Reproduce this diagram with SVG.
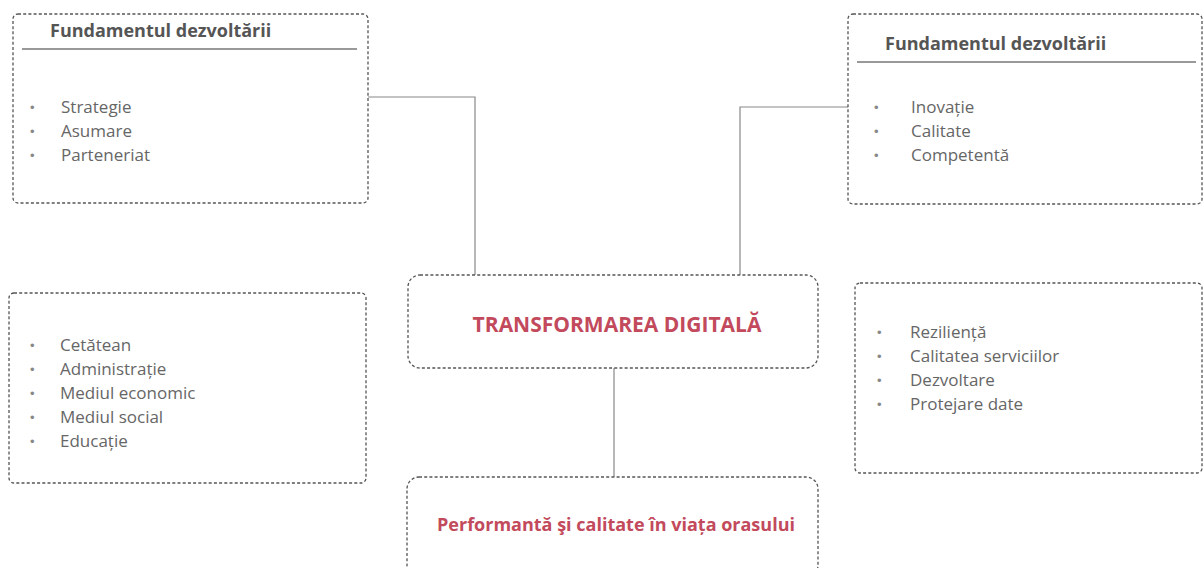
<svg xmlns="http://www.w3.org/2000/svg" width="1204" height="568" viewBox="0 0 1204 568">
<style>
.box{fill:#fff;stroke:#555;stroke-width:1.3;stroke-dasharray:3 2.2}
.t{font-family:"Open Sans","Liberation Sans",sans-serif;font-size:17px;fill:#666}
.h{font-family:"Open Sans","Liberation Sans",sans-serif;font-size:18px;font-weight:bold;fill:#555}
.b{font-family:"Liberation Sans",sans-serif;font-size:13px;fill:#888}
.red{font-family:"Open Sans","Liberation Sans",sans-serif;font-weight:bold;fill:#c24a5c;text-anchor:middle}
.sep{stroke:#777;stroke-width:1.3}
.conn{fill:none;stroke:#888;stroke-width:1.2}
</style>
<rect width="1204" height="568" fill="#fff"/>
<g id="connectors">
<path class="conn" d="M368 97 H475 V275"/>
<path class="conn" d="M848 107 H740 V275"/>
<path class="conn" d="M614 368 V477"/>
</g>
<g id="top-left">
<rect class="box" x="13" y="14" width="355" height="189" rx="5"/>
<text class="h" x="50" y="37">Fundamentul dezvoltării</text>
<line class="sep" x1="22" y1="49" x2="357" y2="49"/>
<text class="b" x="30" y="112">•</text><text class="t" x="61" y="113">Strategie</text>
<text class="b" x="30" y="136">•</text><text class="t" x="61" y="137">Asumare</text>
<text class="b" x="30" y="160">•</text><text class="t" x="61" y="161">Parteneriat</text>
</g>
<g id="top-right">
<rect class="box" x="848" y="14" width="354" height="190" rx="5"/>
<text class="h" x="885" y="50">Fundamentul dezvoltării</text>
<line class="sep" x1="857" y1="62" x2="1196" y2="62"/>
<text class="b" x="874" y="112">•</text><text class="t" x="911" y="113">Inovație</text>
<text class="b" x="874" y="136">•</text><text class="t" x="911" y="137">Calitate</text>
<text class="b" x="874" y="160">•</text><text class="t" x="911" y="161">Competentă</text>
</g>
<g id="mid-left">
<rect class="box" x="9" y="293" width="357" height="190" rx="5"/>
<text class="b" x="30" y="350">•</text><text class="t" x="60" y="351">Cetătean</text>
<text class="b" x="30" y="374">•</text><text class="t" x="60" y="375">Administrație</text>
<text class="b" x="30" y="398">•</text><text class="t" x="60" y="399">Mediul economic</text>
<text class="b" x="30" y="422">•</text><text class="t" x="60" y="423">Mediul social</text>
<text class="b" x="30" y="446">•</text><text class="t" x="60" y="447">Educație</text>
</g>
<g id="mid-right">
<rect class="box" x="855" y="283" width="347" height="190" rx="5"/>
<text class="b" x="877" y="337">•</text><text class="t" x="910" y="338">Reziliență</text>
<text class="b" x="877" y="361">•</text><text class="t" x="910" y="362">Calitatea serviciilor</text>
<text class="b" x="877" y="385">•</text><text class="t" x="910" y="386">Dezvoltare</text>
<text class="b" x="877" y="409">•</text><text class="t" x="910" y="410">Protejare date</text>
</g>
<g id="center">
<rect class="box" x="408" y="275" width="410" height="93" rx="12"/>
<text class="red" x="617" y="332" font-size="21">TRANSFORMAREA DIGITALĂ</text>
</g>
<g id="bottom">
<rect class="box" x="407" y="477" width="411" height="100" rx="12"/>
<text class="red" x="616" y="531" font-size="18">Performantă şi calitate în viața orasului</text>
</g>
</svg>
